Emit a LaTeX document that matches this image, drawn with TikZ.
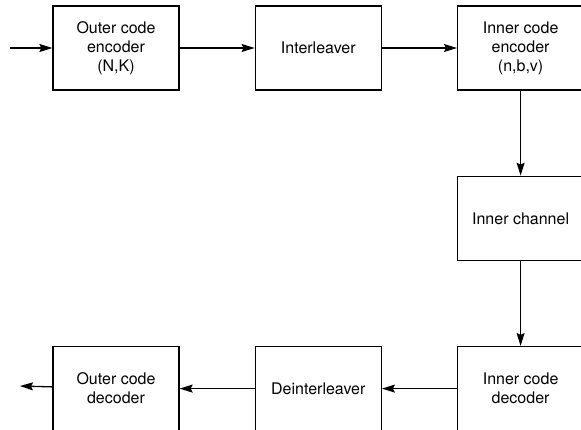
\documentclass[tikz,border=0pt]{standalone}
\usepackage{fontspec}
\setmainfont{TeX Gyre Heros}
\usepackage{tikz}
\usetikzlibrary{arrows.meta, positioning}
\tikzstyle{block}=[rectangle, draw=black, line width=1.3pt, minimum width=126pt, minimum height=84pt, align=center, font=\fontsize{16}{19}\selectfont]
\tikzstyle{into}=[<-, line width=1.3pt]
\tikzstyle{outof}=[->, line width=1.3pt]

\begin{document}
\begin{tikzpicture}[x=1pt, y=1pt, node distance=85pt and 75pt, >={Stealth[length=13pt,width=8pt,inset=2pt]}]
          \useasboundingbox (0,0) rectangle (581,-429);

          \node [block] (oenc) at (116,-48) {Outer code\\encoder\\(N,K)};
          \coordinate (src) at (10,-48);
          \draw [outof] (src) -- (oenc);

          \node [block] (intl) [right=of oenc] {Interleaver}
                edge [into] (oenc);
          \node [block] (ienc) [right=of intl] {Inner code\\encoder\\(n,b,v)}
                edge [into] (intl);
          \node [block] (chan) [below=of ienc] {Inner channel}
                edge [into] (ienc);
          \node [block] (idec) [below=of chan] {Inner code\\decoder}
                edge [into] (chan);
          \node [block] (dint) [left=of idec] {Deinterleaver}
                edge [into] (idec);
          \node [block] (odec) [left=of dint] {Outer code\\decoder}
                edge [into] (dint);

          \coordinate (sink) at (20,-386);
          \draw [outof] (odec) -- (sink);
        \end{tikzpicture}
\end{document}
